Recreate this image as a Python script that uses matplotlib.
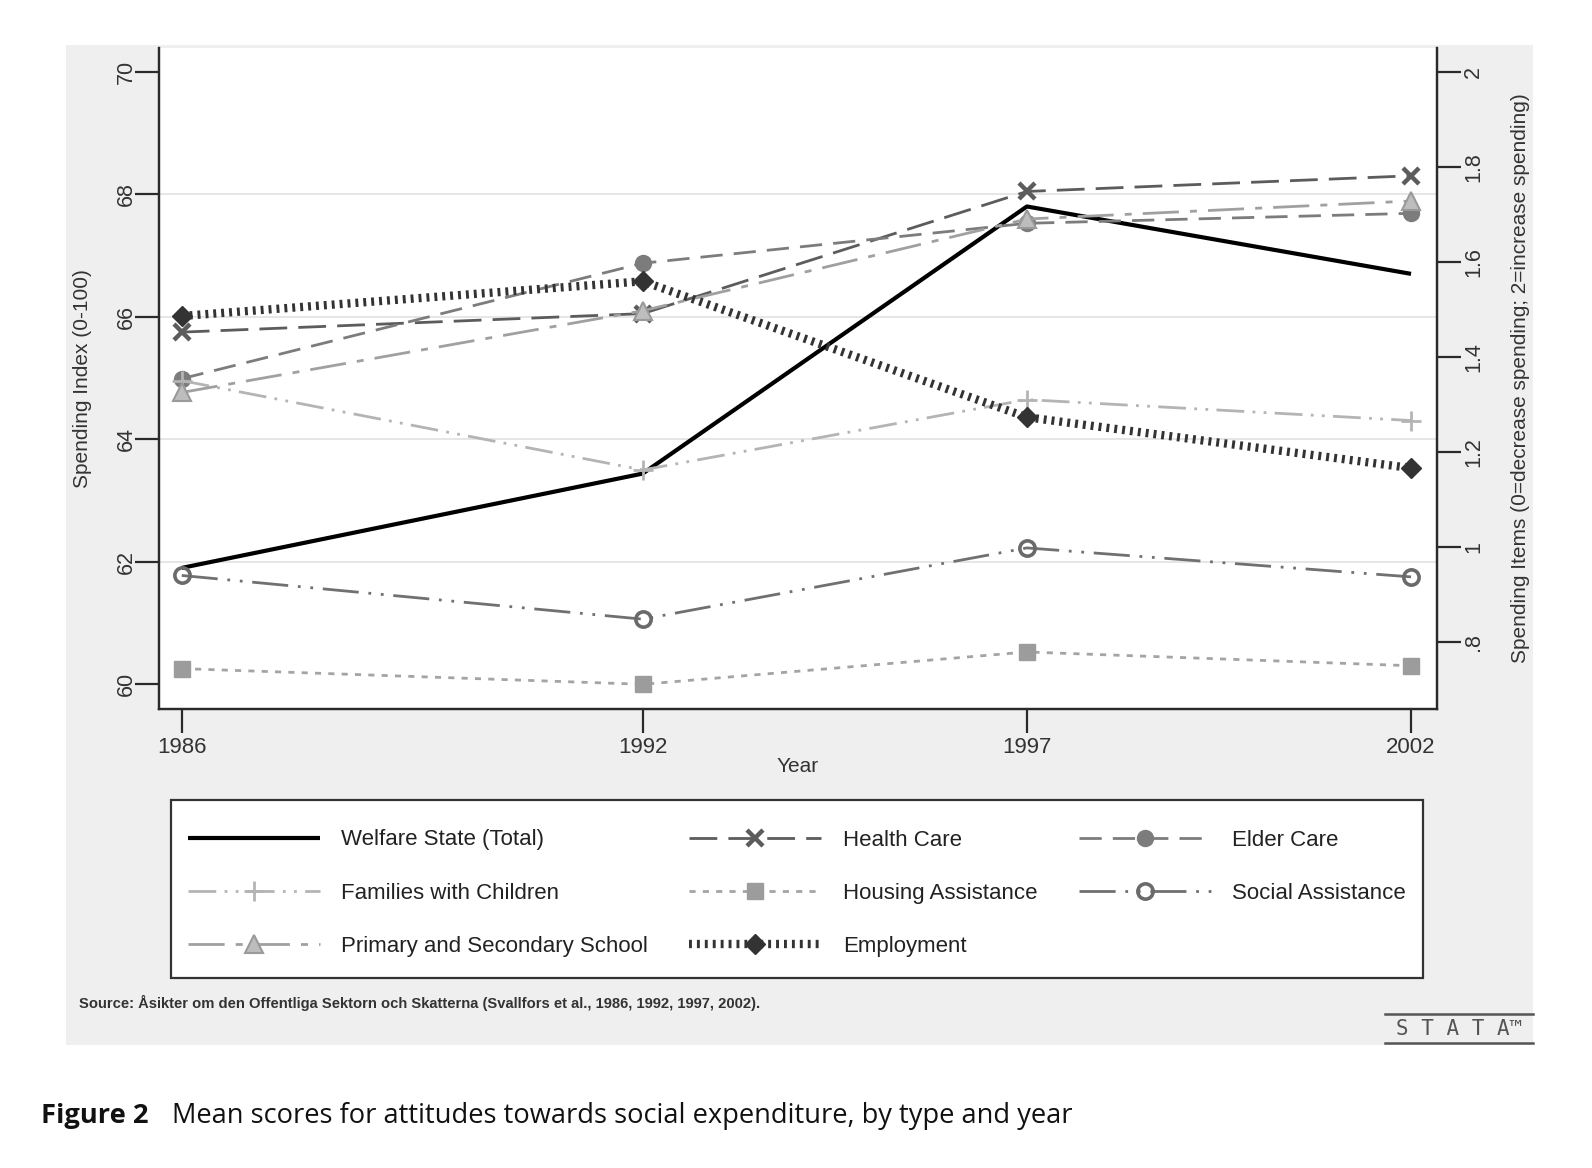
import matplotlib
matplotlib.use("Agg")
import matplotlib.pyplot as plt
from matplotlib.patches import Rectangle
from matplotlib.lines import Line2D

# ---------------- data ----------------
years = [1986, 1992, 1997, 2002]
welfare_total = [61.90, 63.44, 67.80, 66.70]          # left axis (0-100 index)
health_care = [1.452, 1.491, 1.748, 1.781]            # right axis (0-2 items)
elder_care = [1.354, 1.597, 1.681, 1.702]
families_children = [1.350, 1.162, 1.310, 1.266]
housing_assistance = [0.744, 0.711, 0.779, 0.750]
social_assistance = [0.940, 0.848, 0.998, 0.937]
primary_secondary = [1.325, 1.497, 1.690, 1.728]
employment = [1.486, 1.559, 1.273, 1.166]

left_ticks = [60, 62, 64, 66, 68, 70]
right_ticks = [0.8, 1.0, 1.2, 1.4, 1.6, 1.8, 2.0]
right_ticklabels = [".8", "1", "1.2", "1.4", "1.6", "1.8", "2"]
x_ticklabels = ["1986", "1992", "1997", "2002"]

W, H = 1592, 1168
fig = plt.figure(figsize=(W / 100, H / 100), dpi=100, facecolor="white")

SANS = ["Liberation Sans", "DejaVu Sans"]

# gray graph region
fig.patches.append(Rectangle((66 / W, 1 - 1045 / H), (1533 - 66) / W, (1045 - 45) / H,
                             transform=fig.transFigure, facecolor="#efefef",
                             edgecolor="none", zorder=-10))

L, R, T, B = 159.3, 1436.7, 48, 709
ax = fig.add_axes([L / W, 1 - B / H, (R - L) / W, (B - T) / H])
ax.set_facecolor("white")
ax2 = ax.twinx()

ax.set_xlim(1985.708, 2002.334)
ax.set_ylim(59.597, 70.387)
ax2.set_ylim(0.659, 2.0499)

spine_c = "#2a2a2a"
for a in (ax, ax2):
    a.spines["top"].set_visible(False)
    for s in ("left", "right", "bottom"):
        a.spines[s].set_color(spine_c)
        a.spines[s].set_linewidth(1.6)

# grid
ax.set_yticks(left_ticks)
ax.set_yticklabels([str(t) for t in left_ticks], family=SANS, fontsize=15.5,
                   rotation=90, va="center", color="#333")
ax.yaxis.grid(True, color="#e4e4e4", lw=1.3)
for gl, t in zip(ax.get_ygridlines(), left_ticks):
    if t in (left_ticks[0], left_ticks[-1]):
        gl.set_visible(False)
ax.set_axisbelow(True)

ax.set_xticks(years)
ax.set_xticklabels(x_ticklabels, family=SANS, fontsize=16, color="#333")
ax.tick_params(axis="x", length=17, width=1.6, color=spine_c, pad=3)
ax.tick_params(axis="y", length=17, width=1.6, color=spine_c, pad=-1)

ax2.set_yticks(right_ticks)
ax2.set_yticklabels(right_ticklabels, family=SANS, fontsize=15.5, rotation=90,
                    va="center", color="#333")
ax2.tick_params(axis="y", length=17, width=1.6, color=spine_c, pad=2)

ax.set_xlabel("Year", family=SANS, fontsize=15, color="#333")
ax.xaxis.set_label_coords(0.5, -0.0725)
ax.set_ylabel("Spending Index (0-100)", family=SANS, fontsize=15, color="#333")
ax.yaxis.set_label_coords(-0.053, 0.5)
ax2.set_ylabel("Spending Items (0=decrease spending; 2=increase spending)",
               family=SANS, fontsize=15, color="#333")
ax2.yaxis.set_label_coords(1.058, 0.5)

# series
h_w, = ax.plot(years, welfare_total, color="black", lw=3.0, solid_capstyle="butt",
               label="Welfare State (Total)", zorder=3)
h_h, = ax2.plot(years, health_care, color="#5c5c5c", lw=2.0, ls=(0, (10, 4)),
                marker="x", ms=11, mew=3.2, label="Health Care")
h_e, = ax2.plot(years, elder_care, color="#7c7c7c", lw=2.0, ls=(0, (8, 4)),
                marker="o", ms=11.5, label="Elder Care")
h_f, = ax2.plot(years, families_children, color="#b4b4b4", lw=2.0,
                ls=(0, (10, 3, 1, 3, 1, 3)), marker="+", ms=14, mew=2.0,
                label="Families with Children")
h_ho, = ax2.plot(years, housing_assistance, color="#a4a4a4", lw=2.0, ls=(0, (2.2, 2.6)),
                 marker="s", ms=12, mfc="#9c9c9c", mec="#9c9c9c",
                 label="Housing Assistance")
h_s, = ax2.plot(years, social_assistance, color="#707070", lw=2.0,
                ls=(0, (13, 3.5, 1, 3.5, 1, 3.5)), marker="o", ms=11, mew=2.6,
                mfc="none", mec="#6a6a6a", label="Social Assistance")
h_p, = ax2.plot(years, primary_secondary, color="#a0a0a0", lw=2.0,
                ls=(0, (13, 4, 2.5, 4)), marker="^", ms=12.5, mfc="#bdbdbd",
                mec="#9a9a9a", mew=1.5, label="Primary and Secondary School")
h_em, = ax2.plot(years, employment, color="#333333", lw=6.0, ls=(0, (0.35, 0.6)),
                 marker="D", ms=10, mfc="#333333", mec="#333333",
                 label="Employment")

# legend frame
lx0, lx1, ly0, ly1 = 170.5, 1423, 800, 977.5
fig.patches.append(Rectangle((lx0 / W, 1 - ly1 / H), (lx1 - lx0) / W, (ly1 - ly0) / H,
                             transform=fig.transFigure, facecolor="white",
                             edgecolor="#333333", lw=1.6, zorder=-5))

# legend (column-major order to get row-wise Stata layout)
handles = [h_w, h_f, h_p, h_h, h_ho, h_em, h_e, h_s]
ix0, ix1, itop = 187.8, 1405.8, 829.5
leg = fig.legend(handles=handles, labels=[h.get_label() for h in handles],
                 ncol=3, loc="upper left", mode="expand",
                 bbox_to_anchor=(ix0 / W, 1 - itop / H, (ix1 - ix0) / W, 0),
                 bbox_transform=fig.transFigure, borderaxespad=0,
                 prop={"family": SANS, "size": 16}, handlelength=5.94,
                 handletextpad=0.96, labelspacing=1.45, borderpad=0,
                 numpoints=1, frameon=False)
for t in leg.get_texts():
    t.set_color("#222")

# source note
fig.text(79 / W, 1 - 1003 / H,
         "Source: \u00c5sikter om den Offentliga Sektorn och Skatterna (Svallfors et al., 1986, 1992, 1997, 2002).",
         family=SANS, fontsize=10.6, fontweight="bold", color="#333", va="center", ha="left")

# stata logo
fig.add_artist(Line2D([1385 / W, 1533 / W], [1 - 1014 / H, 1 - 1014 / H], color="#555", lw=1.8,
                      transform=fig.transFigure))
fig.add_artist(Line2D([1385 / W, 1533 / W], [1 - 1043 / H, 1 - 1043 / H], color="#555", lw=1.8,
                      transform=fig.transFigure))
fig.text(1459 / W, 1 - 1029 / H, "S T A T A\u2122", family=["DejaVu Sans Mono"], fontsize=15,
         color="#555", ha="center", va="center")

# caption
fig.text(40.6 / W, 1 - 1116 / H, "Figure 2", family=["Open Sans", "DejaVu Sans"],
         fontsize=19.6, fontweight="bold", color="#111", va="center", ha="left")
fig.text(172.5 / W, 1 - 1116 / H,
         "Mean scores for attitudes towards social expenditure, by type and year",
         family=["Open Sans", "DejaVu Sans"], fontsize=19.6, color="#111",
         va="center", ha="left")

fig.savefig("out.png", dpi=100, facecolor="white")
